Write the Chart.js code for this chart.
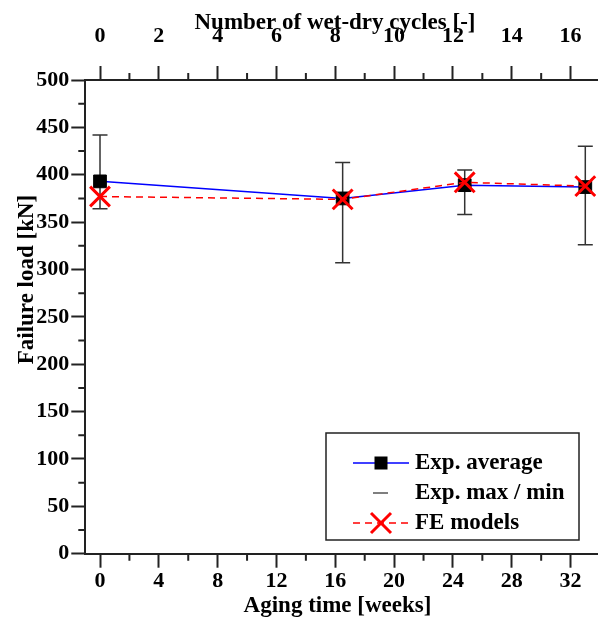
<!DOCTYPE html>
<html><head><meta charset="utf-8">
<script src="https://cdn.jsdelivr.net/npm/chart.js@4/dist/chart.umd.min.js"></script>
<style>html,body{margin:0;padding:0;overflow:hidden;background:#fff}</style>
</head><body>
<canvas id="c" width="600" height="631"></canvas>
<script>
// ---- data ----
const weeks = [0, 16.5, 24.8, 33];
const expAverage = [393, 375, 389, 387];
const expMax = [442, 413, 405, 430];
const expMin = [364, 307, 358, 326];
const feModels = [377, 374, 392, 388];

const weekTicks = [0, 4, 8, 12, 16, 20, 24, 28, 32];
const weekMinorTicks = [2, 6, 10, 14, 18, 22, 26, 30];
const cycleTicks = [0, 2, 4, 6, 8, 10, 12, 14, 16];
const cycleMinorTicks = [1, 3, 5, 7, 9, 11, 13, 15];
const loadTicks = [0, 50, 100, 150, 200, 250, 300, 350, 400, 450, 500];
const loadMinorTicks = [25, 75, 125, 175, 225, 275, 325, 375, 425, 475];

const titleBottom = 'Aging time [weeks]';
const titleTop = 'Number of wet-dry cycles [-]';
const titleLeft = 'Failure load [kN]';
const legendLabels = ['Exp. average', 'Exp. max / min', 'FE models'];

// ---- styles ----
const FONT = '"Liberation Serif", "Times New Roman", serif';
const AX = '#222';
const tickFont = { family: FONT, size: 22, weight: 'bold' };

function axisCommon(tickList, pad) {
  return {
    type: 'linear',
    afterBuildTicks: s => { s.ticks = tickList.map(v => ({ value: v })); },
    ticks: { font: tickFont, color: '#000', padding: pad, maxRotation: 0, autoSkip: false },
    grid: { drawOnChartArea: false, drawTicks: true, tickLength: 14, tickWidth: 2, tickColor: AX },
    border: { display: true, color: AX, width: 2 }
  };
}
function zeroPad(s) { s.paddingLeft = 0; s.paddingRight = 0; s.paddingTop = 0; s.paddingBottom = 0; }

const minorTicks = {
  id: 'minorTicks',
  afterDraw(chart) {
    const { ctx, chartArea: a, scales } = chart;
    ctx.save();
    ctx.strokeStyle = AX; ctx.lineWidth = 2;
    ctx.beginPath();
    weekMinorTicks.forEach(v => { const p = scales.x.getPixelForValue(v); ctx.moveTo(p, a.bottom); ctx.lineTo(p, a.bottom + 7); });
    cycleMinorTicks.forEach(v => { const p = scales.x2.getPixelForValue(v); ctx.moveTo(p, a.top); ctx.lineTo(p, a.top - 7); });
    loadMinorTicks.forEach(v => { const p = scales.y.getPixelForValue(v); ctx.moveTo(a.left, p); ctx.lineTo(a.left - 7, p); });
    ctx.stroke();
    ctx.restore();
  }
};

const errorBars = {
  id: 'errorBars',
  beforeDatasetsDraw(chart) {
    const { ctx, scales } = chart;
    ctx.save();
    ctx.strokeStyle = '#333'; ctx.lineWidth = 1.5;
    ctx.beginPath();
    weeks.forEach((w, i) => {
      const px = scales.x.getPixelForValue(w);
      const t = scales.y.getPixelForValue(expMax[i]);
      const b = scales.y.getPixelForValue(expMin[i]);
      ctx.moveTo(px, t); ctx.lineTo(px, b);
      ctx.moveTo(px - 7.5, t); ctx.lineTo(px + 7.5, t);
      ctx.moveTo(px - 7.5, b); ctx.lineTo(px + 7.5, b);
    });
    ctx.stroke();
    ctx.restore();
  }
};

const titlesAndLegend = {
  id: 'titlesAndLegend',
  afterDraw(chart) {
    const { ctx } = chart;
    ctx.save();
    ctx.fillStyle = '#000';
    ctx.font = 'bold 23px ' + FONT;
    ctx.textAlign = 'center';
    ctx.textBaseline = 'alphabetic';
    ctx.fillText(titleTop, 335, 28.5);
    ctx.fillText(titleBottom, 337.5, 612);
    ctx.save();
    ctx.translate(33, 279.5);
    ctx.rotate(-Math.PI / 2);
    ctx.fillText(titleLeft, 0, 0);
    ctx.restore();

    // legend
    ctx.fillStyle = '#fff';
    ctx.fillRect(326, 433, 253, 107);
    ctx.strokeStyle = AX; ctx.lineWidth = 1.5;
    ctx.strokeRect(326, 433, 253, 107);
    const ys = [463, 493, 523];
    ctx.strokeStyle = '#0000ff'; ctx.lineWidth = 1.5;
    ctx.beginPath(); ctx.moveTo(353, ys[0]); ctx.lineTo(409, ys[0]); ctx.stroke();
    ctx.fillStyle = '#000'; ctx.fillRect(374.5, ys[0] - 6.5, 13, 13);
    ctx.strokeStyle = '#555';
    ctx.beginPath(); ctx.moveTo(373, ys[1]); ctx.lineTo(388, ys[1]); ctx.stroke();
    ctx.strokeStyle = '#ff0000'; ctx.setLineDash([7, 5]);
    ctx.beginPath(); ctx.moveTo(353, ys[2]); ctx.lineTo(409, ys[2]); ctx.stroke();
    ctx.setLineDash([]); ctx.lineWidth = 3;
    ctx.beginPath();
    ctx.moveTo(371, ys[2] - 10); ctx.lineTo(391, ys[2] + 10);
    ctx.moveTo(371, ys[2] + 10); ctx.lineTo(391, ys[2] - 10);
    ctx.stroke();
    ctx.fillStyle = '#000';
    ctx.textAlign = 'left'; ctx.textBaseline = 'middle';
    legendLabels.forEach((l, i) => ctx.fillText(l, 415, ys[i]));
    ctx.restore();
  }
};

new Chart(document.getElementById('c'), {
  type: 'line',
  data: {
    datasets: [
      {
        label: legendLabels[2],
        data: weeks.map((w, i) => ({ x: w, y: feModels[i] })),
        borderColor: '#ff0000', borderWidth: 1.5, borderDash: [7, 5],
        pointStyle: 'crossRot', pointRadius: 14, pointBorderWidth: 3,
        pointBorderColor: '#ff0000', pointBackgroundColor: '#ff0000',
        tension: 0, order: 0, xAxisID: 'x', yAxisID: 'y'
      },
      {
        label: legendLabels[0],
        data: weeks.map((w, i) => ({ x: w, y: expAverage[i] })),
        borderColor: '#0000ff', borderWidth: 1.5,
        pointStyle: 'rect', pointRadius: 9, pointBorderWidth: 1,
        pointBorderColor: '#000', pointBackgroundColor: '#000',
        tension: 0, order: 1, xAxisID: 'x', yAxisID: 'y'
      }
    ]
  },
  options: {
    responsive: false, animation: false, devicePixelRatio: 1,
    layout: { padding: 0, autoPadding: false },
    plugins: { legend: { display: false }, tooltip: { enabled: false } },
    scales: {
      x: Object.assign(axisCommon(weekTicks, 0), { position: 'bottom', min: -1, max: 34,
        afterFit: s => { zeroPad(s); s.height = 77.3; } }),
      x2: Object.assign(axisCommon(cycleTicks, 16), { position: 'top', min: -0.5, max: 17,
        afterFit: s => { zeroPad(s); s.height = 80; } }),
      y: Object.assign(axisCommon(loadTicks, 2), { position: 'left', min: 0, max: 500,
        afterFit: s => { zeroPad(s); s.width = 85.3; } })
    }
  },
  plugins: [errorBars, minorTicks, titlesAndLegend]
});
</script>
</body></html>
